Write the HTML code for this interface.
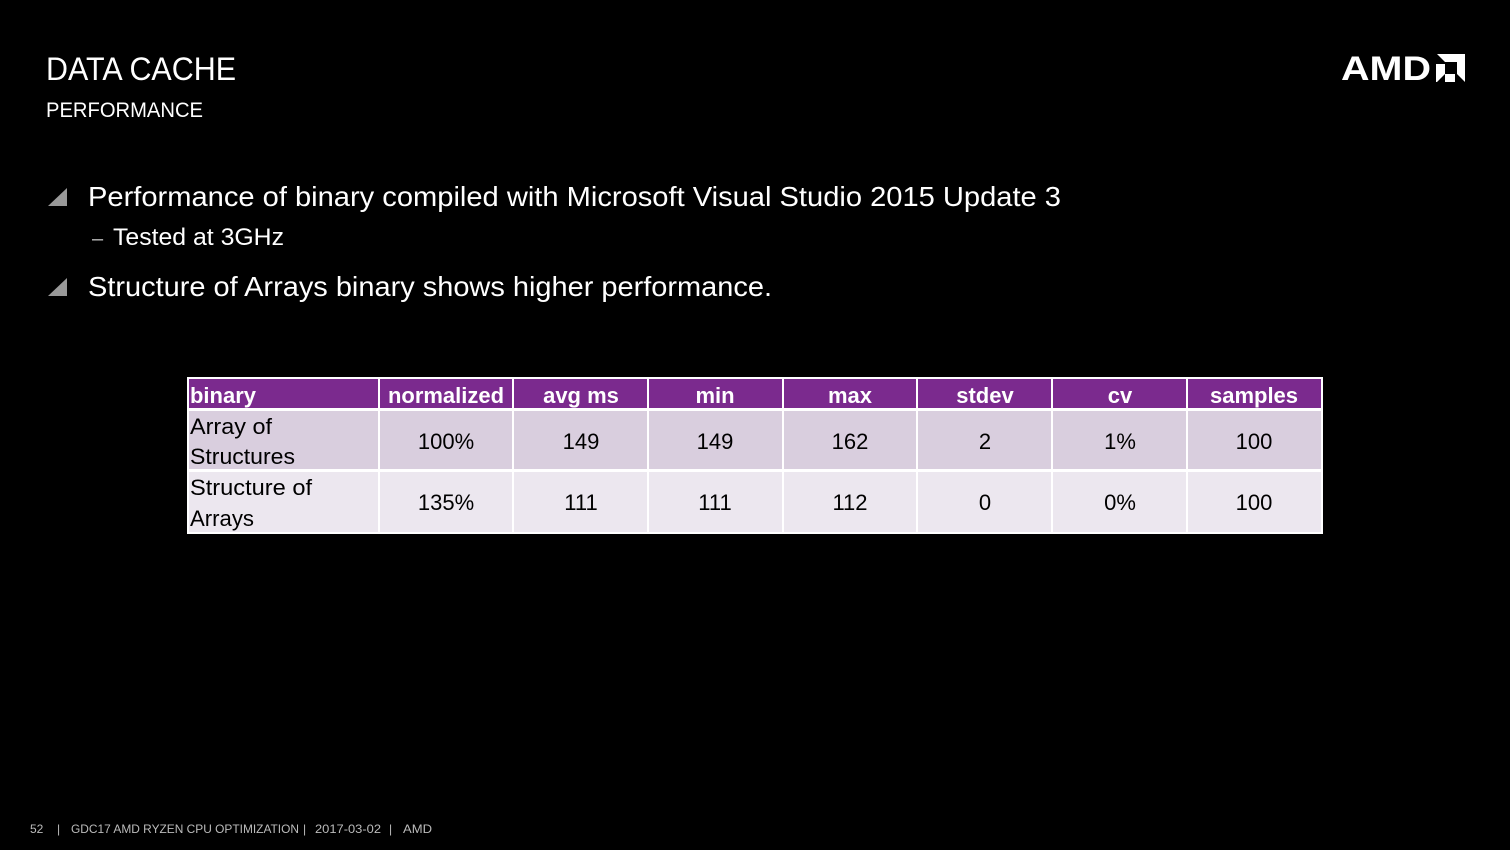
<!DOCTYPE html>
<html><head><style>
html,body{margin:0;padding:0;background:#000;}
svg{display:block}
text{font-family:"Liberation Sans",sans-serif;white-space:pre;}
</style></head><body>
<svg width="1510" height="850" viewBox="0 0 1510 850" xmlns="http://www.w3.org/2000/svg">
<rect width="1510" height="850" fill="#000"/>
<text x="46" y="80" fill="#fff" font-size="32" textLength="190" lengthAdjust="spacingAndGlyphs">DATA CACHE</text>
<text x="46" y="117" fill="#fff" font-size="21" textLength="157" lengthAdjust="spacingAndGlyphs">PERFORMANCE</text>
<text x="1341" y="80" fill="#fff" font-size="34" font-weight="bold" textLength="90" lengthAdjust="spacingAndGlyphs">AMD</text>
<polygon points="1437,54 1465,54 1465,82 1457,74 1457,62 1445,62" fill="#fff"/>
<polygon points="1436,64 1445,64 1445,74 1455,74 1455,82 1436,82" fill="#fff"/>
<polygon points="1437,82 1445,74 1445,82" fill="#000"/>
<polygon points="48,206 67,206 67,188" fill="#999"/>
<text x="88" y="206" fill="#fff" font-size="28" textLength="973" lengthAdjust="spacingAndGlyphs">Performance of binary compiled with Microsoft Visual Studio 2015 Update 3</text>
<text x="92" y="245" fill="#bbb" font-size="20">–</text>
<text x="113" y="245" fill="#fff" font-size="24" textLength="171" lengthAdjust="spacingAndGlyphs">Tested at 3GHz</text>
<polygon points="48,296 67,296 67,278" fill="#999"/>
<text x="88" y="296" fill="#fff" font-size="28" textLength="684" lengthAdjust="spacingAndGlyphs">Structure of Arrays binary shows higher performance.</text>
<rect x="187" y="377" width="1136" height="157" fill="#fff"/>
<g fill="#7B2A8E">
<rect x="189" y="379" width="189" height="29"/><rect x="380" y="379" width="132" height="29"/><rect x="514" y="379" width="133" height="29"/><rect x="649" y="379" width="133" height="29"/><rect x="784" y="379" width="132" height="29"/><rect x="918" y="379" width="133" height="29"/><rect x="1053" y="379" width="133" height="29"/><rect x="1188" y="379" width="133" height="29"/>
</g>
<g fill="#D9CEDE">
<rect x="189" y="411" width="189" height="58"/><rect x="380" y="411" width="132" height="58"/><rect x="514" y="411" width="133" height="58"/><rect x="649" y="411" width="133" height="58"/><rect x="784" y="411" width="132" height="58"/><rect x="918" y="411" width="133" height="58"/><rect x="1053" y="411" width="133" height="58"/><rect x="1188" y="411" width="133" height="58"/>
</g>
<g fill="#ECE7EF">
<rect x="189" y="472" width="189" height="60"/><rect x="380" y="472" width="132" height="60"/><rect x="514" y="472" width="133" height="60"/><rect x="649" y="472" width="133" height="60"/><rect x="784" y="472" width="132" height="60"/><rect x="918" y="472" width="133" height="60"/><rect x="1053" y="472" width="133" height="60"/><rect x="1188" y="472" width="133" height="60"/>
</g>
<g fill="#fff" font-size="22" font-weight="bold" text-anchor="middle">
<text x="223" y="403" textLength="66" lengthAdjust="spacingAndGlyphs">binary</text>
<text x="446" y="403" textLength="116" lengthAdjust="spacingAndGlyphs">normalized</text>
<text x="581" y="403">avg ms</text>
<text x="715" y="403">min</text>
<text x="850" y="403">max</text>
<text x="985" y="403">stdev</text>
<text x="1120" y="403">cv</text>
<text x="1254" y="403">samples</text>
</g>
<g fill="#000" font-size="22">
<text x="190" y="434" textLength="82" lengthAdjust="spacingAndGlyphs">Array of</text>
<text x="190" y="464" textLength="105" lengthAdjust="spacingAndGlyphs">Structures</text>
<text x="190" y="495" textLength="122" lengthAdjust="spacingAndGlyphs">Structure of</text>
<text x="190" y="526" textLength="64" lengthAdjust="spacingAndGlyphs">Arrays</text>
</g>
<g fill="#000" font-size="22" text-anchor="middle">
<text x="446" y="449">100%</text><text x="581" y="449">149</text><text x="715" y="449">149</text><text x="850" y="449">162</text><text x="985" y="449">2</text><text x="1120" y="449">1%</text><text x="1254" y="449">100</text>
<text x="446" y="510">135%</text><text x="581" y="510">111</text><text x="715" y="510">111</text><text x="850" y="510">112</text><text x="985" y="510">0</text><text x="1120" y="510">0%</text><text x="1254" y="510">100</text>
</g>
<g fill="#bbb" font-size="12">
<text x="30" y="833">52</text>
<text x="57" y="833">|</text>
<text x="71" y="833" textLength="228" lengthAdjust="spacingAndGlyphs">GDC17 AMD RYZEN CPU OPTIMIZATION</text>
<text x="303" y="833">|</text>
<text x="315" y="833" textLength="66" lengthAdjust="spacingAndGlyphs">2017-03-02</text>
<text x="389" y="833">|</text>
<text x="403" y="833" textLength="29" lengthAdjust="spacingAndGlyphs">AMD</text>
</g>
</svg>
</body></html>
